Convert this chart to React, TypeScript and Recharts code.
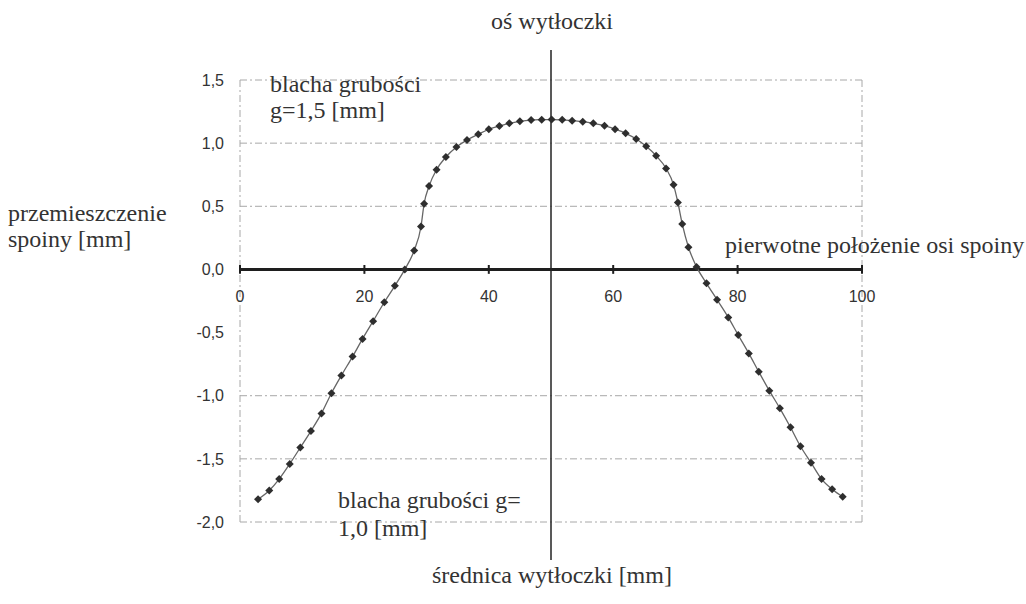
import {
  LineChart,
  Line,
  XAxis,
  YAxis,
  ReferenceLine,
  ReferenceDot,
} from "recharts";

// positions along the stamping diameter [mm]
const xValues = [
  2.9, 4.7, 6.3, 8.0, 9.7, 11.4, 13.1, 14.7, 16.3, 18.1, 19.7, 21.4, 23.2, 24.9,
  26.5, 28.0, 29.1, 29.6, 30.4, 31.6, 33.1, 34.8, 36.5, 38.3, 40.0, 41.7, 43.3,
  45.0, 46.8, 48.5, 50.1, 51.8, 53.4, 55.1, 56.8, 58.6, 60.3, 62.0, 63.7, 65.3,
  66.9, 68.5, 69.7, 70.4, 71.1, 72.1, 73.4, 75.0, 76.7, 78.5, 80.1, 81.8, 83.4,
  85.1, 86.8, 88.5, 90.1, 91.8, 93.5, 95.2, 96.9,
];

// weld displacement [mm]
const yValues = [
  -1.82, -1.75, -1.66, -1.54, -1.41, -1.28, -1.14, -0.98, -0.84, -0.69, -0.55,
  -0.41, -0.26, -0.13, 0.0, 0.15, 0.34, 0.52, 0.66, 0.79, 0.89, 0.97, 1.025,
  1.07, 1.11, 1.135, 1.157, 1.173, 1.183, 1.186, 1.187, 1.185, 1.178, 1.17,
  1.157, 1.138, 1.11, 1.078, 1.033, 0.975, 0.9, 0.8, 0.67, 0.53, 0.36, 0.176,
  0.02, -0.11, -0.24, -0.38, -0.52, -0.665, -0.81, -0.96, -1.1, -1.25, -1.4,
  -1.53, -1.66, -1.74, -1.8,
];

const xTicks = [0, 20, 40, 60, 80, 100];
const yTicks = [-2, -1.5, -1, -0.5, 0, 0.5, 1, 1.5];
const gridValues = [1.5, 1.0, 0.5, -1.0, -1.5, -2.0];

const data = xValues.map((x, i) => ({ x, y: yValues[i] }));

const fmt = (v: number) => v.toFixed(1).replace(".", ",");

const gridStyle = { stroke: "#a8a8a8", strokeWidth: 1, strokeDasharray: "7 3 2 3" };
const serif = "'Liberation Serif', 'DejaVu Serif', 'Times New Roman', serif";
const sans = "'Liberation Sans', Arial, sans-serif";

const textStyle = { fontFamily: serif, fontSize: 24, fill: "#333" };

const Diamond = (props: any) => {
  const { cx, cy } = props;
  if (cx == null || cy == null) return null;
  const s = 4;
  return (
    <polygon
      points={`${cx},${cy - s} ${cx + s},${cy} ${cx},${cy + s} ${cx - s},${cy}`}
      fill="#2e2e2e"
    />
  );
};

const AxisOfStamping = (props: any) => {
  const top = Math.min(props.y1, props.y2) - 30;
  const bottom = Math.max(props.y1, props.y2) + 38;
  return <line x1={props.x1} y1={top} x2={props.x2} y2={bottom} stroke="#222" strokeWidth={1.5} />;
};

const App = () => {
  return (
    <div
      style={{
        position: "absolute",
        left: 0,
        top: 0,
        width: 1026,
        height: 604,
        background: "#fff",
        fontFamily: serif,
      }}
    >
      <LineChart
        width={1026}
        height={604}
        data={data}
        margin={{ top: 80, right: 164, bottom: 82, left: 0 }}
      >
        <XAxis dataKey="x" type="number" domain={[0, 100]} hide />
        <YAxis
          type="number"
          domain={[-2, 1.5]}
          ticks={yTicks}
          width={240}
          axisLine={false}
          tickLine={false}
          tickSize={0}
          tickMargin={16}
          tickFormatter={fmt}
          tick={{ fill: "#333", fontSize: 16, fontFamily: sans }}
        />
        {gridValues.map((v) => (
          <ReferenceLine key={`g${v}`} y={v} {...gridStyle} />
        ))}
        <ReferenceLine x={0} {...gridStyle} />
        <ReferenceLine x={100} {...gridStyle} />
        <ReferenceLine y={0} stroke="#1e1e1e" strokeWidth={3} />
        {xTicks.map((v) => (
          <ReferenceLine
            key={`t${v}`}
            segment={[
              { x: v, y: -0.035 },
              { x: v, y: 0.035 },
            ]}
            stroke="#1e1e1e"
            strokeWidth={2}
          />
        ))}
        {xTicks.map((v) => (
          <ReferenceDot
            key={`l${v}`}
            x={v}
            y={0}
            r={0}
            fill="none"
            stroke="none"
            label={{
              value: String(v),
              position: "bottom",
              offset: 21,
              fill: "#333",
              fontSize: 16,
              fontFamily: sans,
            }}
          />
        ))}
        <ReferenceLine x={50} shape={AxisOfStamping} />
        <Line
          type="monotone"
          dataKey="y"
          stroke="#666"
          strokeWidth={1.3}
          dot={<Diamond />}
          activeDot={false}
          isAnimationActive={false}
        />
      </LineChart>
      <svg
        width={1026}
        height={604}
        style={{ position: "absolute", left: 0, top: 0, pointerEvents: "none" }}
      >
        <text x={552} y={29} textAnchor="middle" style={textStyle}>oś wytłoczki</text>
        <text x={270} y={92} style={textStyle}>blacha grubości</text>
        <text x={270} y={118} style={textStyle}>g=1,5 [mm]</text>
        <text x={8} y={221} style={textStyle}>przemieszczenie</text>
        <text x={8} y={247} style={textStyle}>spoiny [mm]</text>
        <text x={725} y={253} style={textStyle}>pierwotne położenie osi spoiny</text>
        <text x={338} y={508} style={textStyle}>blacha grubości g=</text>
        <text x={338} y={536} style={textStyle}>1,0 [mm]</text>
        <text x={552} y={583} textAnchor="middle" style={textStyle}>średnica wytłoczki [mm]</text>
      </svg>
    </div>
  );
};

export default App;
